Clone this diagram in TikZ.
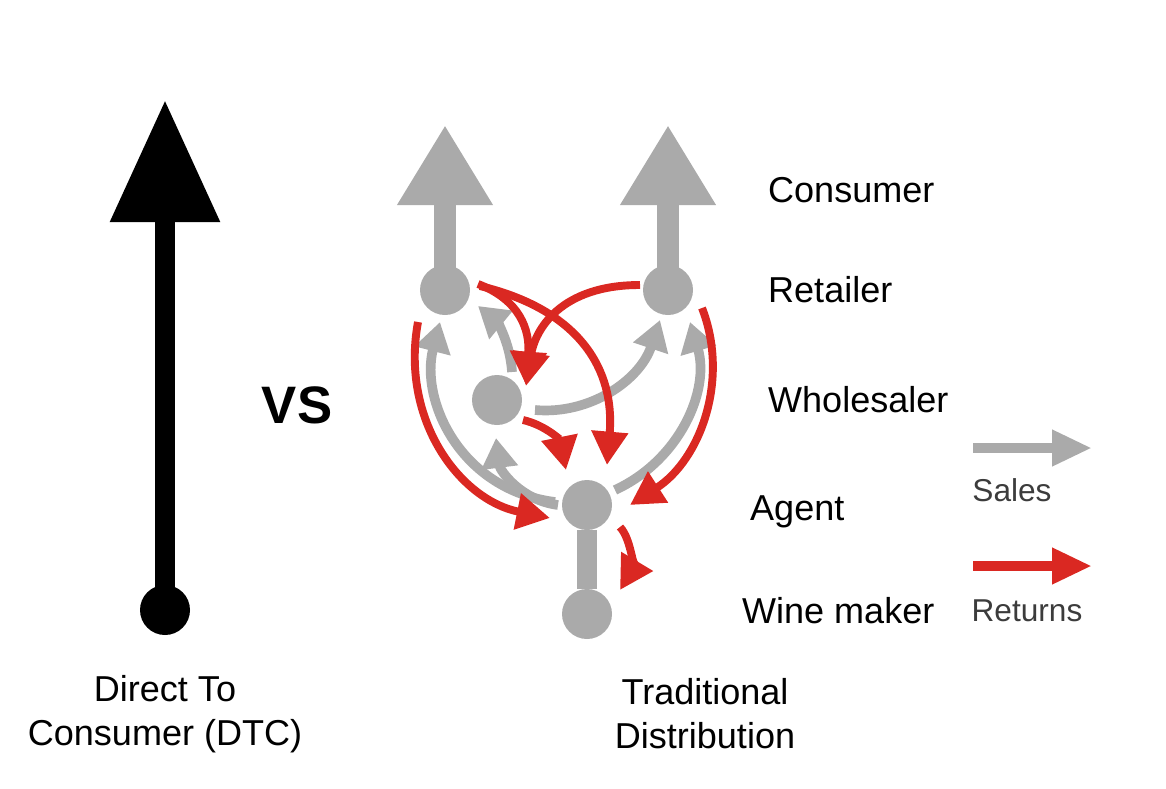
\documentclass[tikz,border=0pt]{standalone}
\usepackage{fontspec}
\setmainfont{Liberation Sans}
\usetikzlibrary{arrows.meta}
\definecolor{gr}{RGB}{170,170,170}
\definecolor{rd}{RGB}{218,40,34}
\definecolor{lg}{RGB}{60,60,60}
\begin{document}
\begin{tikzpicture}[x=0.02cm,y=-0.02cm,
  dot/.style={circle,fill=gr,minimum size=50*0.02cm,inner sep=0},
  ga/.style={draw=gr,line width=5.5pt,-{Triangle[length=17pt,width=20pt]}},
  ra/.style={draw=rd,line width=4.5pt,-{Triangle[length=19pt,width=20pt]}},
  lab/.style={font=\fontsize{20.5}{22}\selectfont,anchor=west}]
\useasboundingbox (0,0) rectangle (1166,788);
% DTC
\node[circle,fill=black,minimum size=50*0.02cm,inner sep=0] (d) at (165,610) {};
\coordinate (dt) at (165,100);
\draw[line width=11pt,-{Triangle[length=122*0.02cm,width=105*0.02cm]}] (d.center) -- (dt);
\node[font=\fontsize{30}{30}\selectfont\bfseries] (vs) at (297,405) {VS};
\node[font=\fontsize{20.5}{25}\selectfont,align=center] (dtc) at (165,714) {Direct To\\Consumer (DTC)};
\node[font=\fontsize{20.5}{25}\selectfont,align=center] (td) at (705,714) {Traditional\\Distribution};
% nodes
\node[dot] (r1) at (445,290) {};
\node[dot] (r2) at (668,290) {};
\node[dot] (w) at (497,400) {};
\node[dot] (a) at (587,505) {};
\node[dot] (m) at (587,614) {};
\coordinate (c1) at (445,125);
\coordinate (c2) at (668,125);
\draw[draw=gr,line width=12pt,-{Triangle[length=80*0.02cm,width=90*0.02cm]}] (r1.center) -- (c1);
\draw[draw=gr,line width=12pt,-{Triangle[length=80*0.02cm,width=90*0.02cm]}] (r2.center) -- (c2);
\draw[draw=gr,line width=11pt] (a.south) -- (m.north);
% gray sales
\draw[ga] (512,372) .. controls (510,340) and (495,320) .. (478,306);
\draw[ga] (558,505) .. controls (520,500) and (500,470) .. (496,438);
\draw[ga] (555,502) .. controls (460,490) and (420,400) .. (440,322);
\draw[ga] (535,410) .. controls (590,415) and (640,380) .. (660,320);
\draw[ga] (615,490) .. controls (680,460) and (710,390) .. (690,322);
% red returns
\draw[ra] (478,284) .. controls (520,300) and (530,330) .. (526,385);
\draw[ra] (480,286) .. controls (580,310) and (615,370) .. (607,465);
\draw[ra] (640,285) .. controls (560,285) and (535,330) .. (526,386);
\draw[ra] (702,308) .. controls (730,380) and (700,460) .. (630,505);
\draw[ra] (418,322) .. controls (400,420) and (460,500) .. (550,518);
\draw[ra] (523,420) .. controls (545,425) and (560,440) .. (566,470);
\draw[ra] (620,527) .. controls (632,540) and (632,570) .. (620,590);
% labels
\node[lab] (l1) at (762,190) {Consumer};
\node[lab] (l2) at (762,290) {Retailer};
\node[lab] (l3) at (762,400) {Wholesaler};
\node[lab] (l4) at (744,512) {Agent};
\node[lab] (l5) at (736,611) {Wine maker};
% legend
\coordinate (s1) at (973,448); \coordinate (s2) at (1092,448);
\coordinate (t1) at (973,566); \coordinate (t2) at (1092,566);
\draw[draw=gr,line width=6pt,-{Triangle[length=40*0.02cm,width=34*0.02cm]}] (s1) -- (s2);
\draw[draw=rd,line width=6pt,-{Triangle[length=40*0.02cm,width=34*0.02cm]}] (t1) -- (t2);
\node[font=\fontsize{18}{20}\selectfont,text=lg] (ls) at (1012,490) {Sales};
\node[font=\fontsize{18}{20}\selectfont,text=lg] (lr) at (1027,611) {Returns};
\end{tikzpicture}
\end{document}
